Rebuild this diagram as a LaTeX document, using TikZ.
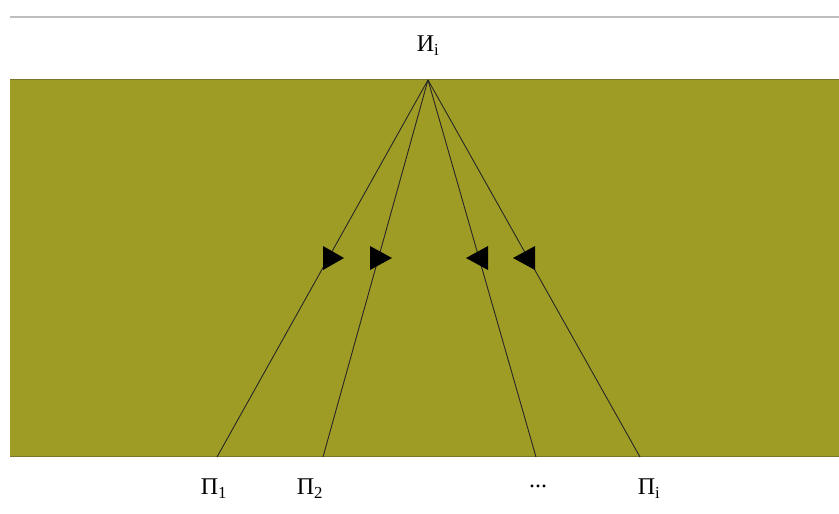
\documentclass[tikz,border=0pt]{standalone}
\usepackage{fontspec}
\setmainfont{Liberation Serif}
\definecolor{olive}{RGB}{159,156,38}
\definecolor{edge}{RGB}{120,118,40}
\definecolor{rule}{RGB}{190,190,190}
\begin{document}
\begin{tikzpicture}[x=1pt,y=-1pt,
  lbl/.style={inner sep=0pt,font=\fontsize{24}{26}\selectfont},
  ray/.style={draw=black!85,line width=0.9pt},
  tri/.style={fill=black}]
\useasboundingbox (0,0) rectangle (839,514);
\fill[white] (0,0) rectangle (839,514);
\draw[rule,line width=2pt] (10,16.5) -- (839,16.5);
\fill[olive] (10,79) rectangle (839,457);
\draw[edge,line width=0.8pt] (10,79.5) -- (839,79.5);
\draw[edge,line width=0.8pt] (10,456.5) -- (839,456.5);
\coordinate (src) at (428,80);
\coordinate (r1) at (217,457);
\coordinate (r2) at (323,457);
\coordinate (r3) at (536,457);
\coordinate (r4) at (640,457);
\node[lbl] (I) at (428,46) {И\textsubscript{i}};
\node[lbl] (P1) at (214,489) {П\textsubscript{1}};
\node[lbl] (P2) at (310,489) {П\textsubscript{2}};
\node[lbl] (Pd) at (538,486) {...};
\node[lbl] (Pi) at (649,489) {П\textsubscript{i}};
\draw[ray] (src) -- (r1);
\draw[ray] (src) -- (r2);
\draw[ray] (src) -- (r3);
\draw[ray] (src) -- (r4);
\fill[tri] (323,246) -- (344,258) -- (323,270) -- cycle;
\fill[tri] (370,246) -- (392,258) -- (370,270) -- cycle;
\fill[tri] (488,246) -- (466,258) -- (488,270) -- cycle;
\fill[tri] (535,246) -- (513,258) -- (535,270) -- cycle;
\end{tikzpicture}
\end{document}
